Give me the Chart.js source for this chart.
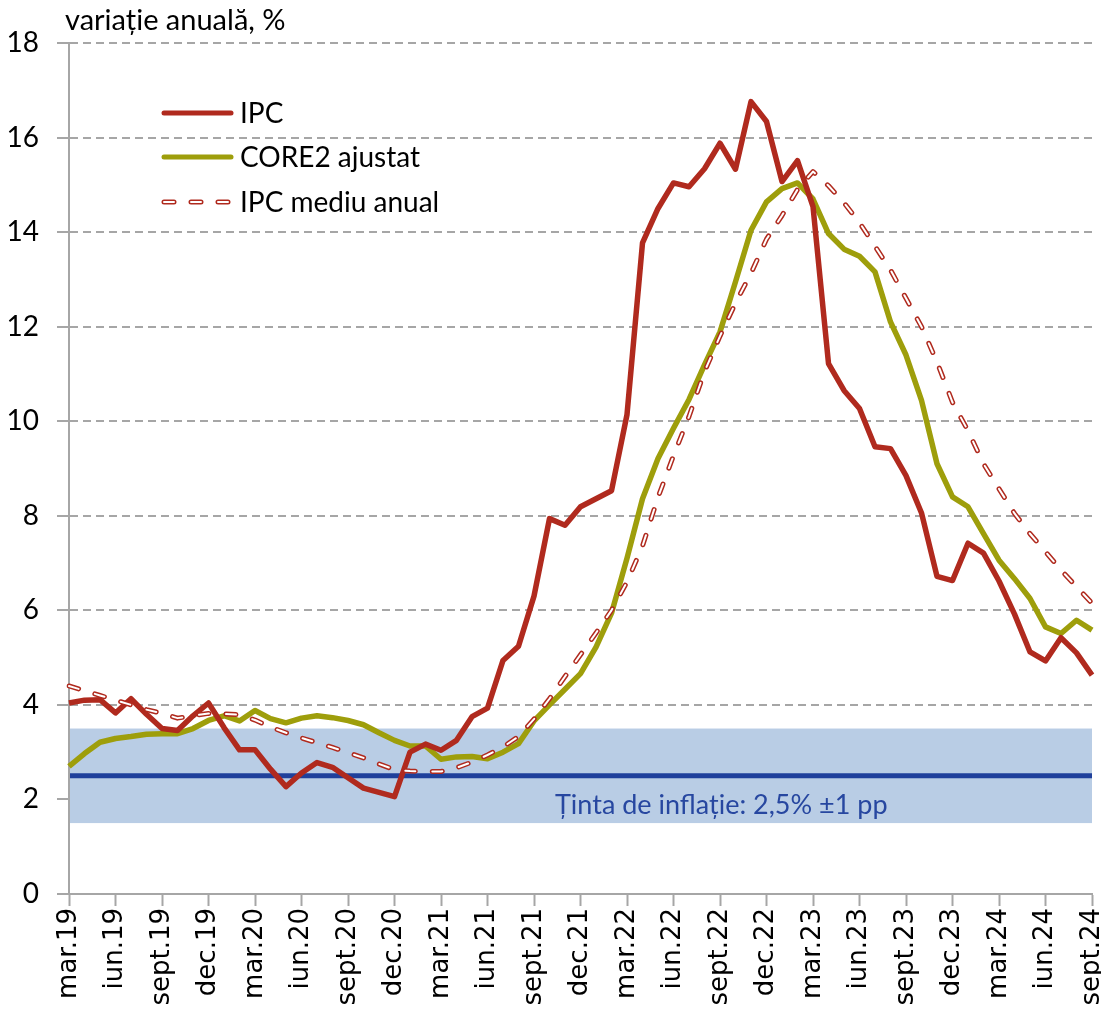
<!DOCTYPE html>
<html>
<head>
<meta charset="utf-8">
<script src="https://cdn.jsdelivr.net/npm/chart.js@4.4.1/dist/chart.umd.min.js"></script>
<style>
  html, body { margin: 0; padding: 0; background: #fff; }
  canvas { display: block; }
</style>
</head>
<body>
<canvas id="chart" width="1101" height="1010"></canvas>
<script>
// monthly categories, mar.19 .. sept.24
const months = [
  'mar.19','apr.19','mai.19','iun.19','iul.19','aug.19','sept.19','oct.19','nov.19','dec.19',
  'ian.20','feb.20','mar.20','apr.20','mai.20','iun.20','iul.20','aug.20','sept.20','oct.20','nov.20','dec.20',
  'ian.21','feb.21','mar.21','apr.21','mai.21','iun.21','iul.21','aug.21','sept.21','oct.21','nov.21','dec.21',
  'ian.22','feb.22','mar.22','apr.22','mai.22','iun.22','iul.22','aug.22','sept.22','oct.22','nov.22','dec.22',
  'ian.23','feb.23','mar.23','apr.23','mai.23','iun.23','iul.23','aug.23','sept.23','oct.23','nov.23','dec.23',
  'ian.24','feb.24','mar.24','apr.24','mai.24','iun.24','iul.24','aug.24','sept.24'
];

const ipc = [
  4.04, 4.10, 4.11, 3.83, 4.13, 3.80, 3.50, 3.46, 3.77, 4.04,
  3.52, 3.05, 3.05, 2.64, 2.27, 2.56, 2.78, 2.68, 2.46, 2.24, 2.15, 2.06,
  3.00, 3.17, 3.04, 3.25, 3.75, 3.93, 4.94, 5.24, 6.30, 7.94, 7.80, 8.19,
  8.36, 8.53, 10.14, 13.77, 14.50, 15.04, 14.96, 15.34, 15.88, 15.33, 16.76, 16.34,
  15.07, 15.51, 14.54, 11.22, 10.65, 10.27, 9.46, 9.42, 8.85, 8.06, 6.72, 6.63,
  7.42, 7.21, 6.62, 5.92, 5.12, 4.93, 5.42, 5.10, 4.63
];

const core2 = [
  2.70, 2.97, 3.21, 3.29, 3.33, 3.38, 3.39, 3.39, 3.50, 3.67,
  3.77, 3.66, 3.88, 3.71, 3.62, 3.72, 3.77, 3.73, 3.67, 3.58, 3.41, 3.25,
  3.13, 3.13, 2.85, 2.90, 2.91, 2.86, 3.00, 3.18, 3.66, 4.00, 4.33, 4.66,
  5.22, 5.94, 7.10, 8.36, 9.21, 9.85, 10.46, 11.19, 11.89, 12.95, 14.04, 14.64,
  14.92, 15.04, 14.70, 13.97, 13.64, 13.49, 13.16, 12.10, 11.40, 10.44, 9.10, 8.40,
  8.19, 7.62, 7.06, 6.67, 6.25, 5.65, 5.51, 5.79, 5.58
];

const ipcMediu = [
  4.40, 4.30, 4.20, 4.10, 4.00, 3.90, 3.82, 3.72, 3.77, 3.82,
  3.81, 3.79, 3.68, 3.53, 3.41, 3.30, 3.20, 3.10, 2.99, 2.88, 2.75, 2.63,
  2.60, 2.59, 2.59, 2.67, 2.79, 2.94, 3.11, 3.33, 3.70, 4.13, 4.60, 5.06,
  5.52, 6.00, 6.60, 7.36, 8.39, 9.27, 10.10, 11.05, 11.80, 12.50, 13.13, 13.85,
  14.35, 14.90, 15.28, 14.98, 14.62, 14.20, 13.70, 13.20, 12.60, 12.00, 11.25, 10.40,
  9.80, 9.10, 8.57, 8.05, 7.62, 7.24, 6.85, 6.50, 6.15
];

// inflation target band
const tinta = 2.5;
const tintaLow = 1.5;
const tintaHigh = 3.5;

const RED = '#b02a1e';
const OLIVE = '#9e9e0b';
const GRID = '#a6a6a6';
const FONT = "Lato, 'Open Sans', 'Noto Sans', sans-serif";

// band + target line + its label, under the series
const targetBand = {
  id: 'targetBand',
  beforeDatasetsDraw(chart) {
    const { ctx, chartArea, scales: { y } } = chart;
    const top = y.getPixelForValue(tintaHigh);
    const bot = y.getPixelForValue(tintaLow);
    const mid = y.getPixelForValue(tinta);
    ctx.save();
    ctx.fillStyle = '#b9cde5';
    ctx.fillRect(chartArea.left + 1, top, chartArea.right - chartArea.left - 1, bot - top);
    ctx.strokeStyle = '#1f409b';
    ctx.lineWidth = 5;
    ctx.beginPath();
    ctx.moveTo(chartArea.left + 1, mid);
    ctx.lineTo(chartArea.right, mid);
    ctx.stroke();
    ctx.fillStyle = '#2747a0';
    ctx.font = '27px ' + FONT;
    ctx.textBaseline = 'middle';
    ctx.fillText('Ținta de inflație: 2,5% ±1 pp', 555, (mid + bot) / 2 + 6);
    ctx.restore();
  }
};

// axis title and legend inside the plot
const labels = {
  id: 'labels',
  afterDraw(chart) {
    const { ctx } = chart;
    ctx.save();
    ctx.fillStyle = '#000';
    ctx.textBaseline = 'middle';
    ctx.font = '29px ' + FONT;
    ctx.fillText('variație anuală, %', 65, 21);

    const items = [
      { text: 'IPC', y: 113, color: RED },
      { text: 'CORE2 ajustat', y: 157, color: OLIVE },
      { text: 'IPC mediu anual', y: 202, dashed: true }
    ];
    ctx.font = '28px ' + FONT;
    items.forEach(it => {
      ctx.lineCap = 'round';
      if (it.dashed) {
        ctx.setLineDash([10, 17]);
        ctx.strokeStyle = RED;
        ctx.lineWidth = 5;
        ctx.beginPath(); ctx.moveTo(164, it.y); ctx.lineTo(232, it.y); ctx.stroke();
        ctx.strokeStyle = '#fff';
        ctx.lineWidth = 2;
        ctx.beginPath(); ctx.moveTo(164, it.y); ctx.lineTo(232, it.y); ctx.stroke();
        ctx.setLineDash([]);
      } else {
        ctx.strokeStyle = it.color;
        ctx.lineWidth = 5;
        ctx.beginPath(); ctx.moveTo(164, it.y); ctx.lineTo(231, it.y); ctx.stroke();
      }
      ctx.fillStyle = '#000';
      ctx.fillText(it.text, 240, it.y + 1);
    });
    ctx.restore();
  }
};

const ctx = document.getElementById('chart').getContext('2d');
const chart = new Chart(ctx, {
  type: 'line',
  data: {
    labels: months,
    datasets: [{
      label: 'IPC mediu anual (interior)',
      data: ipcMediu,
      borderColor: '#ffffff',
      borderWidth: 2,
      borderDash: [10, 17],
      borderCapStyle: 'round'
    }, {
      label: 'IPC mediu anual',
      data: ipcMediu,
      borderColor: RED,
      borderWidth: 5,
      borderDash: [10, 17],
      borderCapStyle: 'round'
    }, {
      label: 'IPC',
      data: ipc,
      borderColor: RED,
      borderWidth: 5.5
    }, {
      label: 'CORE2 ajustat',
      data: core2,
      borderColor: OLIVE,
      borderWidth: 5.5
    }]
  },
  options: {
    responsive: false,
    animation: false,
    layout: { padding: { top: 43, right: 9, left: 0, bottom: 0 } },
    elements: {
      point: { radius: 0 },
      line: { tension: 0, borderJoinStyle: 'round', fill: false }
    },
    plugins: {
      legend: { display: false },
      tooltip: { enabled: false }
    },
    scales: {
      x: {
        type: 'category',
        offset: false,
        grid: {
          display: true,
          drawOnChartArea: false,
          drawTicks: true,
          tickLength: 12,
          tickWidth: 2,
          tickColor: (c) => (c.index % 3 === 0 ? GRID : 'rgba(0,0,0,0)')
        },
        border: { display: true, color: GRID, width: 2 },
        ticks: {
          autoSkip: false,
          minRotation: 90,
          maxRotation: 90,
          padding: 2,
          color: '#000',
          font: { family: "'DejaVu Sans', sans-serif", size: 26 },
          callback: function (v, i) { return i % 3 === 0 ? this.getLabelForValue(v) : ''; }
        },
        afterFit: (s) => { s.height = 116; s.paddingLeft = 0; s.paddingRight = 0; }
      },
      y: {
        min: 0,
        max: 18,
        ticks: {
          stepSize: 2,
          padding: 18,
          color: '#000',
          font: { family: FONT, size: 28 }
        },
        grid: {
          color: GRID,
          lineWidth: 2,
          tickLength: 12,
          tickWidth: 2,
          tickColor: GRID
        },
        border: { display: true, color: GRID, width: 2, dash: [8, 5] },
        afterFit: (s) => { s.width = 69; }
      }
    }
  },
  plugins: [targetBand, labels]
});
</script>
</body>
</html>
